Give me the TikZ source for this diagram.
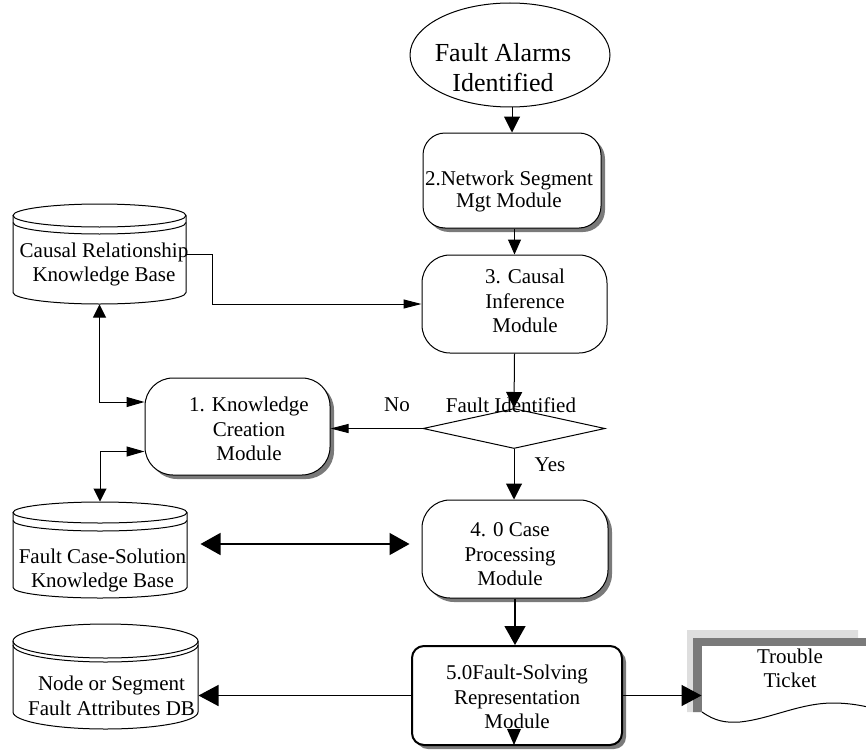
\documentclass[tikz,border=0pt]{standalone}
\usepackage{fontspec}
\setmainfont{Liberation Serif}
\usetikzlibrary{shapes.geometric,arrows.meta,shadows,calc}

% database drum: #1 left, #2 right, #3 top of lid, #4 lid half-height,
% #5 gap of the lid rim, #6 lower end of the sides
\newcommand\dbdrum[6]{%
  \pgfmathsetmacro\drumcx{(#1+#2)/2}%
  \pgfmathsetmacro\drumrx{(#2-#1)/2}%
  \pgfmathsetmacro\drumcy{#3+#4}%
  \pgfmathsetmacro\drumrim{#3+#4+#5}%
  \draw (#1,\drumcy) -- (#1,#6)
        arc[start angle=180,end angle=0,x radius=\drumrx,y radius=#4]
        -- (#2,\drumcy);
  \draw (\drumcx,\drumcy) ellipse[x radius=\drumrx,y radius=#4];
  \draw (#1,\drumrim) arc[start angle=180,end angle=0,x radius=\drumrx,y radius=#4];
}

\begin{document}
\begin{tikzpicture}[x=1pt,y=-1pt,line width=1pt,
  txt/.style={font=\fontsize{21}{24.5}\selectfont,align=center,inner sep=0pt},
  module/.style={draw,fill=white,rounded corners=26pt,inner sep=0pt},
  shade/.style={drop shadow={shadow xshift=4pt,shadow yshift=-4pt,fill=black!52,opacity=1}},
  area/.style={inner sep=0pt},
  bighead/.style={-{Triangle[length=16pt,width=16pt]}},
  thinhead/.style={-{Triangle[length=18pt,width=9pt]}},
  widehead/.style={-{Triangle[length=20pt,width=21pt]}},
]
\useasboundingbox (0,0) rectangle (866,749);

% ---- process shapes ----
\node[draw,ellipse,minimum width=200pt,minimum height=104pt,inner sep=0pt] (alarm) at (510,55) {};
\node[txt,font=\fontsize{26}{30}\selectfont] (alarmtxt) at (503,68) {Fault Alarms\\Identified};

\node[module,shade,rounded corners=22pt,minimum width=178pt,minimum height=95pt] (seg) at (512,180.5) {};
\node[txt,font=\fontsize{21}{22}\selectfont] (segtxt) at (509,191) {2.Network Segment\\Mgt Module};

\node[module,rounded corners=28pt,minimum width=185pt,minimum height=98pt] (infer) at (514.5,304) {};
\node[txt] (infertxt) at (525,301) {3. Causal\\Inference\\Module};

\node[draw,diamond,minimum width=182pt,minimum height=40pt,inner sep=0pt] (fi) at (514,428.5) {};
\node[txt] (fitxt) at (511,405) {Fault Identified};
\node[txt] (notxt) at (397,405) {No};
\node[txt] (yestxt) at (550,465) {Yes};

\node[module,shade,rounded corners=28pt,minimum width=185pt,minimum height=97pt] (know) at (237.5,426.5) {};
\node[txt] (knowtxt) at (249,429) {1. Knowledge\\Creation\\Module};

\node[module,shade,rounded corners=28pt,minimum width=186pt,minimum height=98pt] (case) at (515,549) {};
\node[txt] (casetxt) at (510,554.5) {4. 0 Case\\Processing\\Module};

\node[module,shade,rounded corners=12pt,line width=2pt,minimum width=210pt,minimum height=99pt] (solve) at (517,695.5) {};
\node[txt] (solvetxt) at (517,697) {5.0Fault-Solving\\Representation\\Module};
\fill ([shift={(-3,-1)}]solve.south) -- ([shift={(-10,-17)}]solve.south) -- ([shift={(4,-17)}]solve.south) -- cycle;

% ---- databases ----
\dbdrum{13}{186}{204}{11.5}{7}{292.5}
\node[area,minimum width=173pt,minimum height=100pt] (kb1) at (99.5,254) {};
\node[txt] (kb1txt) at (104,264.5) {Causal Relationship\\Knowledge Base};

\dbdrum{13}{187}{502}{10.5}{8}{587.5}
\node[area,minimum width=174pt,minimum height=96pt] (kb2) at (100,550) {};
\node[txt] (kb2txt) at (102.5,570.5) {Fault Case-Solution\\Knowledge Base};

\dbdrum{13}{198}{624}{17}{4}{712}
\node[area,minimum width=185pt,minimum height=104pt] (attr) at (105.5,676) {};
\node[txt] (attrtxt) at (111.5,696) {Node or Segment\\Fault Attributes DB};

% ---- trouble ticket document ----
\fill[black!13] (687,630) -- (858,630) -- (858,690) -- (702,690) -- (702,712) -- (687,712) -- cycle;
\fill[black!52] (693,638) -- (885,638) -- (885,690) -- (702,690) -- (702,712) -- (693,712) -- cycle;
\fill[white] (885,646) -- (702,646) -- (702,712)
  .. controls (715,721) and (725,723) .. (740,722)
  .. controls (770,719) and (800,703) .. (833,703)
  .. controls (850,703) and (868,706) .. (885,712) -- cycle;
\draw (702,712)
  .. controls (715,721) and (725,723) .. (740,722)
  .. controls (770,719) and (800,703) .. (833,703)
  .. controls (850,703) and (868,706) .. (885,712);
\node[area,minimum width=178pt,minimum height=66pt] (ticket) at (791,679) {};
\node[txt] (tickettxt) at (790,668.5) {Trouble\\Ticket};

% ---- connectors ----
\draw[bighead] (seg.north |- alarm.south) -- (seg.north);
\draw[-{Triangle[length=15pt,width=13pt]}] (infer.north |- seg.south) -- (infer.north);
\draw[bighead] (infer.south) -- (fi.north);
\draw[bighead] (fi.south) -- (fi.south |- case.north);
\draw[-{Triangle[length=19pt,width=21pt]},line width=1.4pt] (case.south) -- (case.south |- solve.north);
\draw[thinhead] (fi.west) -- (fi.west -| know.east);
\draw[thinhead] (kb1.east) -- ++(26,0) |- (infer.west);
\draw[{Triangle[length=13pt,width=13pt]}-{Triangle[length=18pt,width=10pt]}]
  (kb1.south) |- ([shift={(0,-24.5)}]know.west);
\draw[{Triangle[length=18pt,width=10pt]}-{Triangle[length=13pt,width=13pt]}]
  ([shift={(0,25)}]know.west) -| (kb2.north);
\draw[{Triangle[length=20pt,width=22pt]}-{Triangle[length=20pt,width=22pt]},line width=1.4pt]
  ([shift={(13,-6)}]kb2.east) -- ([shift={(-12,-5)}]case.west);
\draw[widehead,line width=1.4pt] (solve.west) -- (solve.west -| attr.east);
\draw[widehead,line width=1.4pt] (solve.east) -- (solve.east -| ticket.west);
\end{tikzpicture}
\end{document}
